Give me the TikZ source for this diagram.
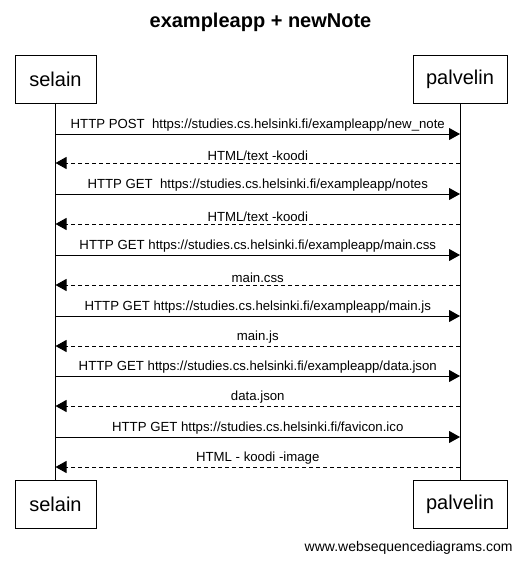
\documentclass[tikz,border=0pt]{standalone}
\usepackage{fontspec}
\setmainfont{Liberation Sans}
\usetikzlibrary{arrows.meta}
\begin{document}
\begin{tikzpicture}[x=1pt,y=-1pt,line width=1pt,
   actor/.style={draw,rectangle,minimum width=81pt,minimum height=48pt,inner sep=0pt,font=\fontsize{20}{24}\selectfont},
   msg/.style={-{Triangle[length=11pt,width=12pt]}},
   reply/.style={msg,dash pattern=on 4pt off 3pt},
   lbl/.style={above,inner sep=2pt,font=\fontsize{13.2}{15}\selectfont}]
   \useasboundingbox (0,0) rectangle (521,563);
   \node[font=\bfseries\fontsize{20}{24}\selectfont] (title) at (260.5,22) {exampleapp + newNote};
   % Top
   \node[actor] (selainA) at (55.5,79) {selain};
   \node[actor,minimum width=94pt] (palvelinA) at (460,79) {palvelin};
   % Bottom
   \node[actor] (selainB) at (55.5,504) {selain};
   \node[actor,minimum width=94pt] (palvelinB) at (460,504) {palvelin};
   % Lifelines
   \draw (selainA) -- (selainB);
   \draw (palvelinA) -- (palvelinB);
   \foreach \y [count=\i] in {134,163,194,224,255,285,316,346,376,406,437,467}{
     \coordinate (s\i) at (55.5,\y);
     \coordinate (p\i) at (460,\y);
   }
   % Messages
   \draw[msg] (s1) -- node[lbl] {HTTP POST\ \ https://studies.cs.helsinki.fi/exampleapp/new\_note} (p1);
   \draw[reply] (p2) -- node[lbl] {HTML/text -koodi} (s2);
   \draw[msg] (s3) -- node[lbl] {HTTP GET\ \ https://studies.cs.helsinki.fi/exampleapp/notes} (p3);
   \draw[reply] (p4) -- node[lbl] {HTML/text -koodi} (s4);
   \draw[msg] (s5) -- node[lbl] {HTTP GET https://studies.cs.helsinki.fi/exampleapp/main.css} (p5);
   \draw[reply] (p6) -- node[lbl] {main.css} (s6);
   \draw[msg] (s7) -- node[lbl] {HTTP GET https://studies.cs.helsinki.fi/exampleapp/main.js} (p7);
   \draw[reply] (p8) -- node[lbl] {main.js} (s8);
   \draw[msg] (s9) -- node[lbl] {HTTP GET https://studies.cs.helsinki.fi/exampleapp/data.json} (p9);
   \draw[reply] (p10) -- node[lbl] {data.json} (s10);
   \draw[msg] (s11) -- node[lbl] {HTTP GET https://studies.cs.helsinki.fi/favicon.ico} (p11);
   \draw[reply] (p12) -- node[lbl] {HTML - koodi -image} (s12);
   \node[anchor=east,inner sep=0pt,font=\fontsize{14}{16}\selectfont] (credit) at (513,548) {www.websequencediagrams.com};
\end{tikzpicture}
\end{document}
